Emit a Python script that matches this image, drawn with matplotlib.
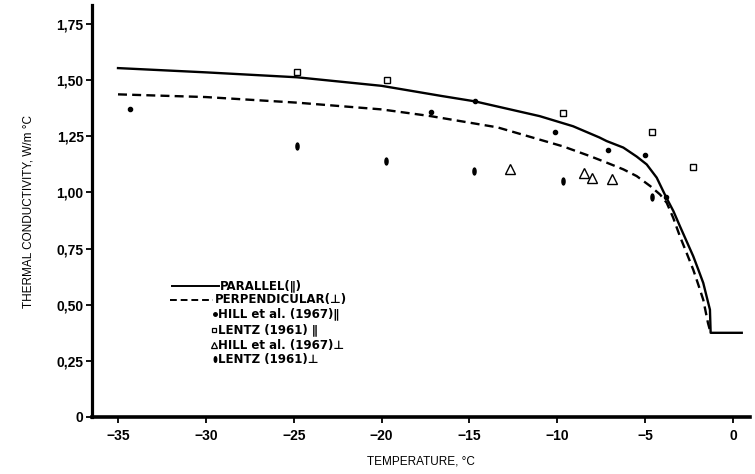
import matplotlib
matplotlib.use('Agg')
import matplotlib.pyplot as plt
import numpy as np
from matplotlib.path import Path
from matplotlib.lines import Line2D

plt.rcParams['font.family'] = ['Liberation Sans', 'DejaVu Sans']

# curves
par_t = [-35, -30, -24.8, -20, -16.6, -14.7, -11.0, -9.1, -7.6, -7.19, -6.24, -5.48,
         -4.91, -4.34, -3.81, -3.39, -3.02, -2.64, -2.26, -1.97, -1.69, -1.50, -1.31,
         -1.27, 0.5]
par_v = [1.554, 1.535, 1.513, 1.475, 1.43, 1.406, 1.34, 1.295, 1.245, 1.229, 1.20, 1.16,
         1.125, 1.066, 0.98, 0.917, 0.85, 0.783, 0.716, 0.656, 0.597, 0.537, 0.478,
         0.375, 0.375]

perp_t = [-35, -30, -24.8, -20, -17.2, -13.4, -9.66, -8.14, -7.19, -6.24, -5.48, -4.7,
          -4.15, -3.77, -3.40, -3.02, -2.64, -2.26, -1.97, -1.69, -1.42, -1.27]
perp_v = [1.437, 1.425, 1.40, 1.37, 1.34, 1.29, 1.205, 1.162, 1.133, 1.103, 1.073, 1.028,
          0.991, 0.954, 0.887, 0.805, 0.731, 0.656, 0.589, 0.522, 0.418, 0.375]

# measured points
hill_par_t = [-34.3, -17.2, -14.7, -10.1, -7.1, -5.0, -3.8]
hill_par_v = [1.37, 1.36, 1.406, 1.27, 1.19, 1.165, 0.98]

lentz_par_t = [-24.8, -19.7, -9.7, -4.6, -2.3]
lentz_par_v = [1.535, 1.50, 1.355, 1.27, 1.115]

hill_perp_t = [-12.7, -8.5, -8.0, -6.9]
hill_perp_v = [1.105, 1.085, 1.065, 1.06]

lentz_perp_t = [-24.8, -19.75, -14.75, -9.7, -4.6]
lentz_perp_v = [1.205, 1.14, 1.095, 1.05, 0.98]

xticks = [-35, -30, -25, -20, -15, -10, -5, 0]
xticklabels = ['\u221235', '\u221230', '\u221225', '\u221220', '\u221215', '\u221210', '\u22125', '0']
yticks = [0, 0.25, 0.5, 0.75, 1.0, 1.25, 1.5, 1.75]
yticklabels = ['0', '0,25', '0,50', '0,75', '1,00', '1,25', '1,50', '1,75']

# vertical ellipse marker for Lentz perpendicular
circ = Path.unit_circle()
ellipse = Path(circ.vertices * np.array([0.45, 1.0]), circ.codes)

fig = plt.figure(figsize=(7.55, 4.74), dpi=100)
ax = fig.add_axes([92 / 755, 57 / 474, 658 / 755, 412 / 474])

ax.plot(par_t, par_v, color='black', lw=1.7, solid_joinstyle='round')
ax.plot(perp_t, perp_v, color='black', lw=1.7, dashes=(3.8, 2.2))

ax.plot(hill_par_t, hill_par_v, 'o', color='black', ms=3)
ax.plot(lentz_par_t, lentz_par_v, 's', mfc='white', mec='black', mew=1.0, ms=4.5)
ax.plot(hill_perp_t, hill_perp_v, '^', mfc='white', mec='black', mew=1.0, ms=7.5)
ax.plot(lentz_perp_t, lentz_perp_v, marker=ellipse, ls='none', color='black', ms=5)

ax.set_xlim(-36.48, 0.97)
ax.set_ylim(0, 1.835)

ax.spines['top'].set_visible(False)
ax.spines['right'].set_visible(False)
ax.spines['left'].set_linewidth(2.3)
ax.spines['bottom'].set_linewidth(2.6)

ax.set_xticks(xticks)
ax.set_xticklabels(xticklabels, fontsize=10, fontweight='bold')
ax.set_yticks(yticks)
ax.set_yticklabels(yticklabels, fontsize=10, fontweight='bold')
ax.tick_params(axis='both', direction='out', length=4, width=1.3, pad=2)
ax.tick_params(axis='x', pad=5)

ax.set_xlabel('TEMPERATURE, \u00b0C', fontsize=8.5, labelpad=9)
ax.set_ylabel('THERMAL CONDUCTIVITY, W/m \u00b0C', fontsize=8.5, labelpad=16)

# legend drawn by hand to follow the original layout
tr = ax.transAxes
ax.add_line(Line2D([0.1216, 0.1935], [0.319, 0.319], transform=tr, color='black', lw=1.4))
ax.add_line(Line2D([0.1186, 0.1845], [0.285, 0.285], transform=tr, color='black', lw=1.4,
                   dashes=(3.5, 2.0)))
ax.add_line(Line2D([0.1875], [0.251], transform=tr, marker='o', color='black', ms=2.5))
ax.add_line(Line2D([0.1855], [0.212], transform=tr, marker='s', mfc='white', mec='black',
                   mew=0.9, ms=3.5))
ax.add_line(Line2D([0.1850], [0.174], transform=tr, marker='^', mfc='white', mec='black',
                   mew=0.9, ms=5))
ax.add_line(Line2D([0.1875], [0.140], transform=tr, marker=ellipse, color='black', ms=4))

leg_kw = dict(transform=tr, fontsize=8.5, fontweight='bold', va='center', ha='left',
              family=['DejaVu Sans'])
ax.text(0.1945, 0.319, 'PARALLEL(\u2225)', **leg_kw)
ax.text(0.1860, 0.285, 'PERPENDICULAR(\u22a5)', **leg_kw)
ax.text(0.1920, 0.251, 'HILL et al. (1967)\u2225', **leg_kw)
ax.text(0.1920, 0.212, 'LENTZ (1961) \u2225', **leg_kw)
ax.text(0.1920, 0.174, 'HILL et al. (1967)\u22a5', **leg_kw)
ax.text(0.1920, 0.140, 'LENTZ (1961)\u22a5', **leg_kw)

fig.savefig('out.png', dpi=100, facecolor='white')
